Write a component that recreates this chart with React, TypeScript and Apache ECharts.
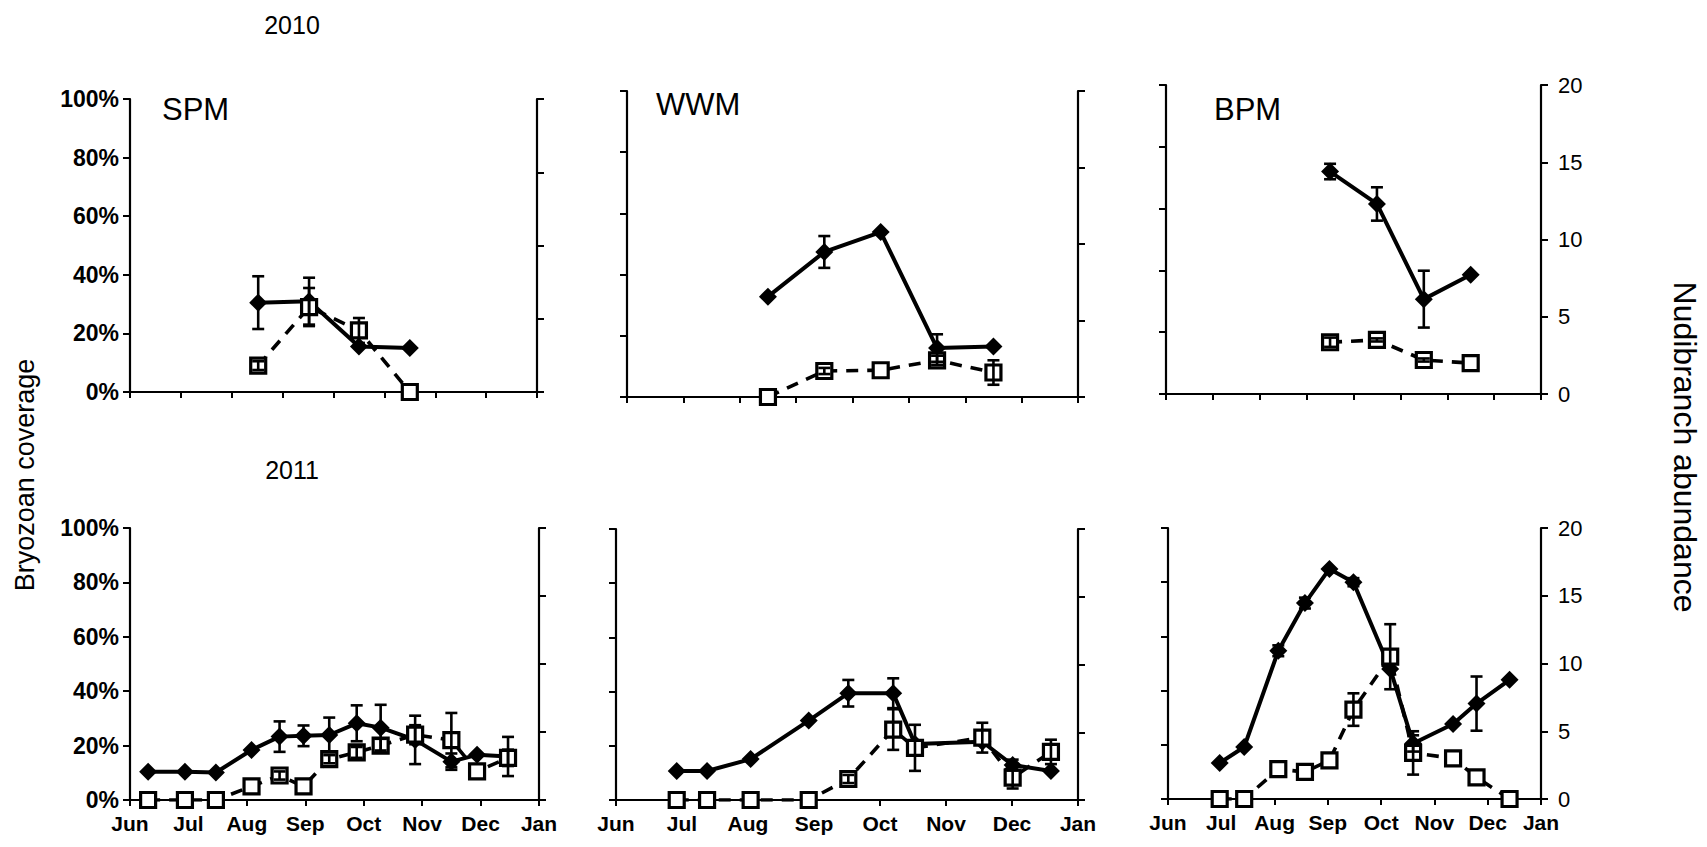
import React, { useEffect, useRef } from "react";
import * as echarts from "echarts";

// ---------- data ----------
const months = ["Jun", "Jul", "Aug", "Sep", "Oct", "Nov", "Dec", "Jan"];

// 2010 (sampling positions on an unlabeled 8-interval axis)
const spm2010X = [2.52, 3.52, 4.5, 5.5];
const spm2010Cov = [30.5, 31, 15.5, 15];
const spm2010CovErr = [9, 8, 0, 0];
const spm2010Ab = [1.8, 5.8, 4.2, 0];
const spm2010AbErr = [0.3, 1.3, 0.85, 0];

const wwm2010X = [2.5, 3.5, 4.5, 5.5, 6.5];
const wwm2010Cov = [32.8, 47.4, 53.9, 16, 16.5];
const wwm2010CovErr = [0, 5.2, 0, 4.5, 0];
const wwm2010Ab = [0, 1.7, 1.75, 2.4, 1.6];
const wwm2010AbErr = [0, 0.2, 0, 0.3, 0.8];

const bpm2010X = [3.5, 4.5, 5.5, 6.5];
const bpm2010Cov = [72, 61.5, 30.7, 38.6];
const bpm2010CovErr = [2.5, 5.4, 9.2, 0];
const bpm2010Ab = [3.35, 3.5, 2.2, 2.0];
const bpm2010AbErr = [0.3, 0.1, 0.1, 0];

// 2011 (months since 1 June)
const spm2011X = [0.31, 0.94, 1.47, 2.08, 2.56, 2.97, 3.41, 3.88, 4.29, 4.88, 5.5, 5.94, 6.47];
const spm2011Cov = [10.4, 10.4, 10.1, 18.4, 23.3, 23.6, 23.9, 28.2, 26.6, 22.1, 14.1, 16.6, 16];
const spm2011CovErr = [0, 0, 0, 0, 5.6, 3.8, 6.4, 6.6, 8.4, 8.9, 3, 0, 7.2];
const spm2011Ab = [0, 0, 0, 1.0, 1.8, 1.0, 3.0, 3.5, 4.0, 4.8, 4.4, 2.1, 3.1];
const spm2011AbErr = [0, 0, 0, 0, 0.3, 0, 0.3, 0.4, 0.5, 0.7, 2.0, 0, 0.6];

const wwm2011X = [0.92, 1.38, 2.04, 2.92, 3.52, 4.2, 4.53, 5.55, 6.01, 6.59];
const wwm2011Cov = [10.7, 10.7, 15.1, 29.3, 39.4, 39.4, 20.7, 21.5, 12.9, 10.7];
const wwm2011CovErr = [0, 0, 0, 0, 4.9, 5.5, 0, 0, 2, 0];
const wwm2011Ab = [0, 0, 0, 0, 1.55, 5.2, 3.85, 4.6, 1.65, 3.55];
const wwm2011AbErr = [0, 0, 0, 0, 0.3, 1.5, 1.7, 1.1, 0.8, 0.9];

const bpm2011X = [0.97, 1.43, 2.07, 2.57, 3.03, 3.48, 4.17, 4.6, 5.35, 5.79, 6.41];
const bpm2011Cov = [13.3, 19.2, 54.7, 72.3, 84.9, 80, 48, 20.5, 27.7, 35.2, 44];
const bpm2011CovErr = [0, 0, 2, 2, 0, 1.5, 0, 3, 0, 10, 0];
const bpm2011Ab = [0, 0, 2.2, 2.0, 2.85, 6.6, 10.5, 3.4, 3.0, 1.6, 0];
const bpm2011AbErr = [0, 0, 0, 0, 0, 1.2, 2.4, 1.6, 0, 0, 0];

const coverageTicks = [0, 20, 40, 60, 80, 100];
const abundanceTicks = [0, 5, 10, 15, 20];

// ---------- layout ----------
const panels = [
  { name: "SPM", x: spm2010X, cov: spm2010Cov, covErr: spm2010CovErr, ab: spm2010Ab, abErr: spm2010AbErr,
    grid: { left: 130, top: 99, width: 407, height: 293 }, xMax: 8, leftLabels: true, rightLabels: false, monthLabels: false, lx: 162, ly: 94 },
  { name: "WWM", x: wwm2010X, cov: wwm2010Cov, covErr: wwm2010CovErr, ab: wwm2010Ab, abErr: wwm2010AbErr,
    grid: { left: 627, top: 91, width: 451, height: 306 }, xMax: 8, leftLabels: false, rightLabels: false, monthLabels: false, lx: 656, ly: 89 },
  { name: "BPM", x: bpm2010X, cov: bpm2010Cov, covErr: bpm2010CovErr, ab: bpm2010Ab, abErr: bpm2010AbErr,
    grid: { left: 1166, top: 85, width: 375, height: 309 }, xMax: 8, leftLabels: false, rightLabels: true, monthLabels: false, lx: 1214, ly: 94 },
  { name: "", x: spm2011X, cov: spm2011Cov, covErr: spm2011CovErr, ab: spm2011Ab, abErr: spm2011AbErr,
    grid: { left: 130, top: 528, width: 409, height: 272 }, xMax: 7, leftLabels: true, rightLabels: false, monthLabels: true, lx: 0, ly: 0 },
  { name: "", x: wwm2011X, cov: wwm2011Cov, covErr: wwm2011CovErr, ab: wwm2011Ab, abErr: wwm2011AbErr,
    grid: { left: 616, top: 529, width: 462, height: 271 }, xMax: 7, leftLabels: false, rightLabels: false, monthLabels: true, lx: 0, ly: 0 },
  { name: "", x: bpm2011X, cov: bpm2011Cov, covErr: bpm2011CovErr, ab: bpm2011Ab, abErr: bpm2011AbErr,
    grid: { left: 1168, top: 528, width: 373, height: 271 }, xMax: 7, leftLabels: false, rightLabels: true, monthLabels: true, lx: 0, ly: 0 },
];

const FONT = "'Liberation Sans', Arial, sans-serif";
const BLACK = "#000";

const errorRender = (params: any, api: any) => {
  const x = api.value(0);
  const lo = api.coord([x, api.value(1)]);
  const hi = api.coord([x, api.value(2)]);
  const w = 6;
  const st = { stroke: BLACK, lineWidth: 2.6 };
  return {
    type: "group",
    children: [
      { type: "line", shape: { x1: lo[0], y1: lo[1], x2: hi[0], y2: hi[1] }, style: st },
      { type: "line", shape: { x1: hi[0] - w, y1: hi[1], x2: hi[0] + w, y2: hi[1] }, style: st },
      { type: "line", shape: { x1: lo[0] - w, y1: lo[1], x2: lo[0] + w, y2: lo[1] }, style: st },
    ],
  };
};

function txt(text: string, x: number, y: number, size: number, opts: any = {}) {
  return {
    type: "text", x, y, rotation: opts.rotation ?? 0,
    style: {
      text, fontSize: size, fontFamily: FONT, fontWeight: opts.bold ? "bold" : "normal", fill: BLACK,
      align: opts.align ?? "center", verticalAlign: opts.vAlign ?? "middle",
    },
  };
}

function buildOption() {
  const grids: any[] = [];
  const xAxes: any[] = [];
  const yAxes: any[] = [];
  const series: any[] = [];
  const axisLine = { show: true, onZero: false, lineStyle: { color: BLACK, width: 2.2 } };
  const axisTick = { show: true, inside: false, length: 7, lineStyle: { color: BLACK, width: 2 } };

  panels.forEach((p, i) => {
    grids.push({ ...p.grid, containLabel: false });
    xAxes.push({
      type: "value", gridIndex: i, min: 0, max: p.xMax, interval: 1,
      axisLine, axisTick: { ...axisTick, length: 6 }, splitLine: { show: false },
      axisLabel: {
        show: p.monthLabels, margin: 13, color: BLACK, fontFamily: FONT, fontSize: 21, fontWeight: "bold",
        formatter: (v: number) => months[v] ?? "",
      },
    });
    yAxes.push({
      type: "value", gridIndex: i, position: "left", min: 0, max: 100, interval: 20,
      axisLine, axisTick, splitLine: { show: false },
      axisLabel: { show: p.leftLabels, margin: 11, color: BLACK, fontFamily: FONT, fontSize: 23, fontWeight: "bold",
        formatter: (v: number) => (coverageTicks.includes(v) ? v + "%" : "") },
    });
    yAxes.push({
      type: "value", gridIndex: i, position: "right", min: 0, max: 20, interval: 5,
      axisLine, axisTick, splitLine: { show: false },
      axisLabel: { show: p.rightLabels, margin: 17, color: BLACK, fontFamily: FONT, fontSize: 22,
        formatter: (v: number) => (abundanceTicks.includes(v) ? String(v) : "") },
    });

    series.push({
      type: "line", xAxisIndex: i, yAxisIndex: 2 * i, z: 3,
      data: p.x.map((xv, k) => [xv, p.cov[k]]),
      symbol: "diamond", symbolSize: 18, showSymbol: true,
      itemStyle: { color: BLACK }, lineStyle: { color: BLACK, width: 4 },
    });
    series.push({
      type: "line", xAxisIndex: i, yAxisIndex: 2 * i + 1, z: 4,
      data: p.x.map((xv, k) => [xv, p.ab[k]]),
      symbol: "rect", symbolSize: 15, showSymbol: true,
      itemStyle: { color: "#fff", borderColor: BLACK, borderWidth: 3.2 },
      lineStyle: { color: BLACK, width: 3.6, type: [12, 9] },
    });
    series.push({
      type: "custom", xAxisIndex: i, yAxisIndex: 2 * i, z: 5,
      renderItem: errorRender,
      data: p.x.map((xv, k) => [xv, p.cov[k] - p.covErr[k], p.cov[k] + p.covErr[k]]).filter((_, k) => p.covErr[k] > 0),
    });
    series.push({
      type: "custom", xAxisIndex: i, yAxisIndex: 2 * i + 1, z: 5,
      renderItem: errorRender,
      data: p.x.map((xv, k) => [xv, p.ab[k] - p.abErr[k], p.ab[k] + p.abErr[k]]).filter((_, k) => p.abErr[k] > 0),
    });
  });

  const graphic: any[] = [
    txt("2010", 292, 25, 25),
    txt("2011", 292, 470, 25),
    txt("Bryozoan coverage", 25, 475, 27, { rotation: Math.PI / 2 }),
    txt("Nudibranch abundance", 1685, 447, 32, { rotation: -Math.PI / 2 }),
  ];
  panels.forEach((p) => {
    if (p.name) graphic.push(txt(p.name, p.lx, p.ly, 31, { align: "left", vAlign: "top" }));
  });

  return {
    animation: false,
    backgroundColor: "#fff",
    grid: grids,
    xAxis: xAxes,
    yAxis: yAxes,
    series,
    graphic,
  };
}

export default function App() {
  const ref = useRef<HTMLDivElement>(null);
  useEffect(() => {
    if (!ref.current) return;
    const chart = echarts.init(ref.current, undefined, { renderer: "svg" });
    chart.setOption(buildOption() as any);
    return () => chart.dispose();
  }, []);
  return <div ref={ref} style={{ position: "fixed", left: 0, top: 0, width: 1707, height: 847, background: "#fff" }} />;
}
